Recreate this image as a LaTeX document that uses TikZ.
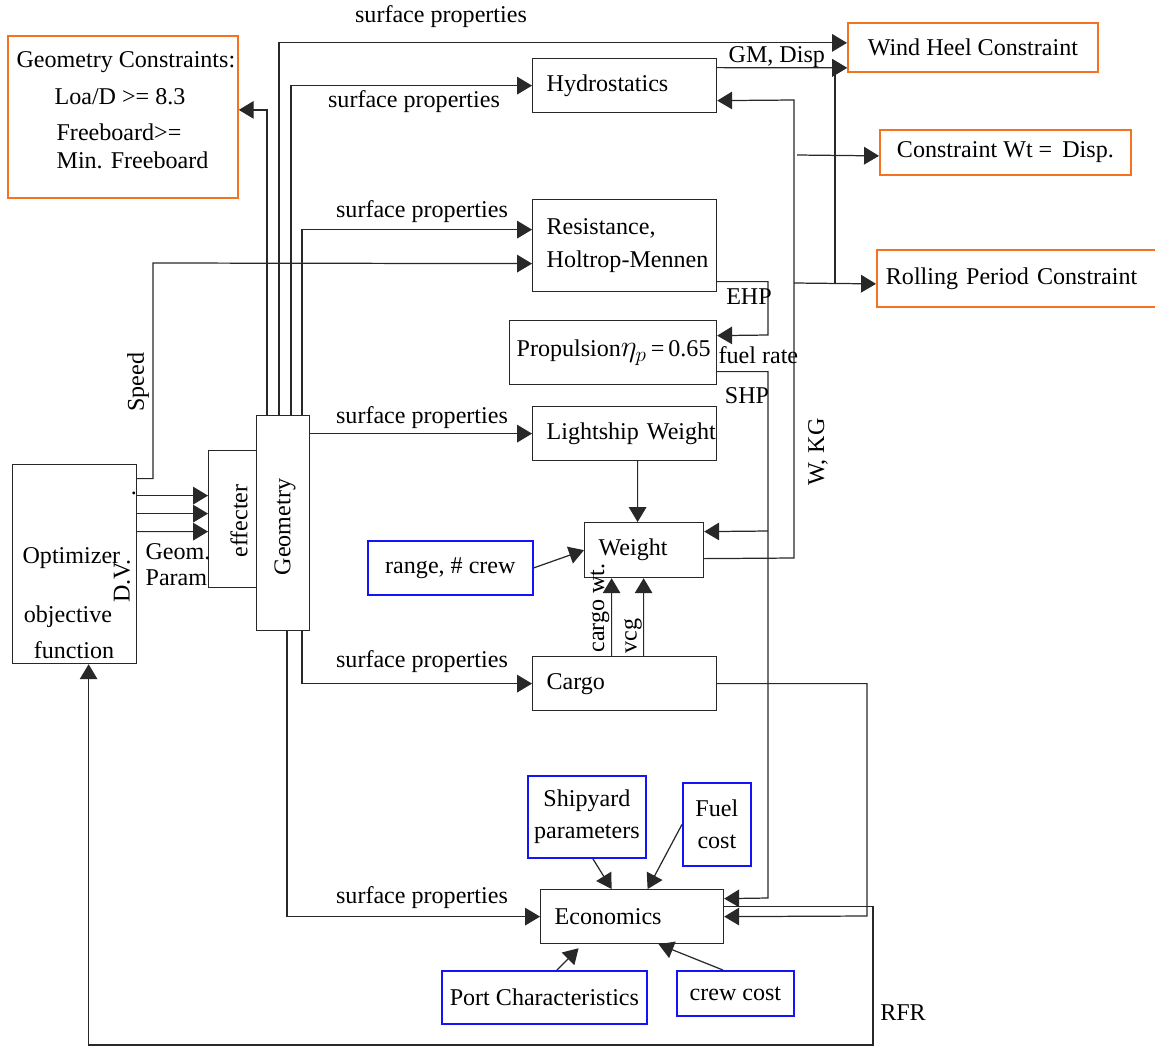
\documentclass[tikz,border=0pt]{standalone}
\usepackage{fontspec}
\setmainfont{Liberation Serif}
\usetikzlibrary{arrows.meta}
\definecolor{org}{RGB}{245,115,30}
\definecolor{blu}{RGB}{20,20,250}
\definecolor{lc}{RGB}{40,40,40}
\newcommand\fs{\fontsize{13.7pt}{16pt}\selectfont}
\newcommand\pu{*0.02cm}
\begin{document}
\begin{tikzpicture}[x=0.02cm, y=-0.02cm, line width=0.7pt,
  every node/.style={font=\fs, inner sep=0pt},
  bx/.style={draw=lc, anchor=north west},
  obx/.style={bx, draw=org, line width=1pt},
  bbx/.style={bx, draw=blu, line width=1pt},
  lbx/.style={bx, align=left, inner xsep=0.28cm, text width=3.12cm},
  arr/.style={draw=lc, -{Triangle[length=8.5pt,width=10pt]}}
]
\useasboundingbox (0,0) rectangle (1155,1049);

% constraint boxes
\node[obx, minimum width=230\pu, minimum height=162\pu] (gc) at (7,35) {};
\node[anchor=west] (gc1) at (16,62) {Geometry Constraints:};
\node[anchor=west] (gc2) at (54,97) {Loa/D >= 8.3};
\node[anchor=west] (gc3) at (56,132) {Freeboard>=};
\node[anchor=west] (gc4) at (56,160) {Min. Freeboard};
\node[obx, minimum width=250\pu, minimum height=49\pu] (wh) at (847,22) {Wind Heel Constraint};
\node[obx, minimum width=251\pu, minimum height=45\pu] (cwt) at (879,129) {Constraint Wt = \,Disp.};
\node[obx, minimum width=290\pu, minimum height=57\pu, align=left, inner xsep=9\pu, text width=5.44cm] (rp) at (876,249) {\mbox{Rolling Period Constraint}};

% analysis boxes
\node[lbx, minimum width=184\pu, minimum height=54\pu] (hyd) at (532,58) {Hydrostatics};
\node[lbx, minimum width=184\pu, minimum height=92\pu] (res) at (532,199) {\mbox{Resistance,}\\[3pt]\mbox{Holtrop-Mennen}};
\node[bx, align=left, inner xsep=7\pu, text width=3.86cm, minimum height=64\pu] (prop) at (509,320) {\mbox{Propulsion{\fontsize{18pt}{18pt}\selectfont$\eta_p$}\,=\,0.65}};
\node[lbx, minimum width=184\pu, minimum height=54\pu] (lw) at (532,406) {\mbox{Lightship Weight}};
\node[bx, align=left, inner xsep=0.28cm, text width=1.82cm, minimum height=55\pu] (wt) at (584,522) {Weight};
\node[bbx, minimum width=165\pu, minimum height=54\pu] (rc) at (367,540) {range, \# crew};
\node[lbx, minimum width=184\pu, minimum height=54\pu] (cargo) at (532,656) {Cargo};
\node[bbx, minimum width=118\pu, minimum height=82\pu, align=center] (sy) at (527,775) {Shipyard\\[2pt]parameters};
\node[bbx, minimum width=68\pu, minimum height=83\pu, align=center] (fuel) at (682,782) {Fuel\\[2pt]cost};
\node[bx, align=left, inner xsep=0.28cm, text width=3.10cm, minimum height=54\pu] (econ) at (540,889) {Economics};
\node[bbx, minimum width=205\pu, minimum height=53\pu] (port) at (441,970) {Port Characteristics};
\node[bbx, minimum width=117\pu, minimum height=45\pu] (crew) at (676,970) {crew cost};

% optimizer, effecter, geometry
\node[bx, minimum width=124\pu, minimum height=199\pu] (opt) at (12,464) {};
\node[anchor=west] (optT) at (22,558) {Optimizer};
\node (objT) at (68,617) {objective};
\node (funT) at (74,650) {function};
\node[rotate=90] (dvT) at (122,581) {D.V.};
\node (dotT) at (134,493) {.};
\node[bx, minimum width=48\pu, minimum height=137\pu] (eff) at (208,450) {};
\node[rotate=90] (effT) at (239,521) {effecter};
\node[bx, minimum width=53\pu, minimum height=215\pu] (geo) at (256,415) {};
\node[rotate=90] (geoT) at (285,527) {Geometry};

% geometry outputs
\draw[arr] ([xshift=11\pu]geo.north west) |- ([yshift=7\pu]gc.east);
\draw[arr] ([xshift=23\pu]geo.north west) |- ([yshift=4.5\pu]wh.west);
\draw[arr] ([xshift=35\pu]geo.north west) |- (hyd.west);
\draw[arr] ([xshift=46\pu]geo.north west) |- ([yshift=16\pu]res.west);
\draw[arr] (geo.east |- lw.west) -- (lw.west);
\draw[arr] ([xshift=46\pu]geo.south west) |- (cargo.west);
\draw[arr] ([xshift=31\pu]geo.south west) |- (econ.west);
\node (sp1) at (441,17) {surface properties};
\node (sp2) at (414,102) {surface properties};
\node (sp3) at (422,212) {surface properties};
\node (sp4) at (422,418) {surface properties};
\node (sp5) at (422,662) {surface properties};
\node (sp6) at (422,898) {surface properties};

% speed
\coordinate (spd) at (153,263);
\draw[arr] ([yshift=85.5\pu]opt.east) -| (spd) -- ([yshift=-18\pu]res.west);
\node[rotate=90] (spdT) at (138,382) {Speed};

% design variables
\foreach \a/\b in {68.5/23.5, 50.5/5.5, 32.5/-12.5}
  \draw[arr] ([yshift=\a\pu]opt.east) -- ([yshift=\b\pu]eff.west);
\node[anchor=west] (gpT1) at (145,552) {Geom.};
\node[anchor=west] (gpT2) at (145,578) {Param};

% hydrostatics to wind heel
\draw[arr] ([yshift=18\pu]hyd.east) -- ([yshift=-20.5\pu]wh.west);
\node[anchor=west] (gmT) at (728,57) {GM, Disp};

% W, KG
\coordinate (wkB) at (794,558);
\coordinate (wkT) at (794,100);
\coordinate (wkC) at (797,155);
\coordinate (wkR) at (794,283);
\coordinate (wkW) at (835,283);
\draw[arr] ([yshift=-8.5\pu]wt.east) -- (wkB) -- (wkT) -- ([yshift=-15\pu]hyd.east);
\draw[arr] (wkC) -- ([yshift=-3.5\pu]cwt.west);
\draw[arr] (wkR) -- ([yshift=-5.5\pu]rp.west);
\draw[arr] (wkW) |- ([yshift=-20.5\pu]wh.west);
\node[rotate=90] (wkgT) at (818,452) {W, KG};

% EHP
\coordinate (ehp) at (768,335);
\draw[arr] ([yshift=-36\pu]res.east) -| (ehp) -- ([yshift=17\pu]prop.east);
\node (ehpT) at (749,297) {EHP};

% fuel rate / SHP
\coordinate (fuB) at (768,898);
\coordinate (fuW) at (768,531);
\draw[arr] ([yshift=-19\pu]prop.east) -| (fuB) -- ([yshift=18\pu]econ.east);
\draw[arr] (fuW) -- ([yshift=18.5\pu]wt.east);
\node[anchor=west] (frT) at (718,355) {fuel rate};
\node (shpT) at (747,396) {SHP};

% weight inputs
\draw[arr] ([xshift=13\pu]lw.south) -- ([xshift=-6.5\pu]wt.north);
\draw[arr] (rc.east) -- (wt.west);
\draw[arr] ([xshift=-13\pu]cargo.north) -- ([xshift=-32.5\pu]wt.south);
\draw[arr] ([xshift=19\pu]cargo.north) -- ([xshift=-0.5\pu]wt.south);
\node[rotate=90] (cwT) at (600,608) {cargo wt.};
\node[rotate=90] (vcgT) at (633,636) {vcg};

% cargo to economics
\coordinate (cgE) at (867,916);
\draw[arr] (cargo.east) -| (cgE) -- (econ.east);

% RFR
\coordinate (rfA) at (873,1045);
\draw[arr] ([yshift=10\pu]econ.east) -| (rfA) -| ([xshift=14\pu]opt.south);
\node (rfrT) at (903,1013) {RFR};

% economics inputs
\draw[arr] ([xshift=6\pu]sy.south) -- ([xshift=-20.5\pu]econ.north);
\draw[arr] (fuel.west) -- ([xshift=15.5\pu]econ.north);
\draw[arr] ([xshift=12.5\pu]port.north) -- ([xshift=-53.5\pu,yshift=-4\pu]econ.south);
\draw[arr] ([xshift=-12.5\pu]crew.north) -- ([xshift=26.5\pu]econ.south);
\end{tikzpicture}
\end{document}
